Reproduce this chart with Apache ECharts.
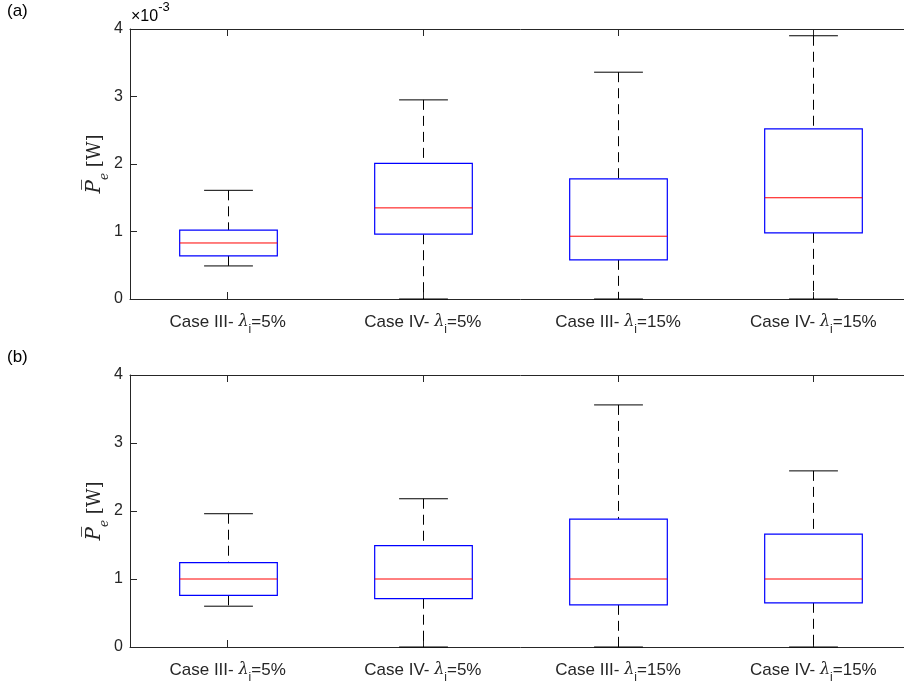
<!DOCTYPE html>
<html>
<head>
<meta charset="utf-8">
<script src="https://cdn.jsdelivr.net/npm/echarts@6/dist/echarts.min.js"></script>
<style>
  html, body { margin: 0; padding: 0; background: #fff; overflow: hidden; }
  #chart { width: 911px; height: 684px; }
</style>
</head>
<body>
<div id="chart"></div>
<script>
(function () {
var myChart = echarts.init(document.getElementById("chart"));

// categories (rich text: {l|λ}{s|i} for lambda with subscript i)
var cases = ["Case III- {l|λ}{s|i}=5%", "Case IV- {l|λ}{s|i}=5%", "Case III- {l|λ}{s|i}=15%", "Case IV- {l|λ}{s|i}=15%"];

// box stats, units of 1e-3 W: [category, lower whisker, Q1, median, Q3, upper whisker]
var boxA = [
    [0, 0.49, 0.64, 0.83, 1.02, 1.61],
    [1, 0.00, 0.96, 1.35, 2.01, 2.95],
    [2, 0.00, 0.58, 0.93, 1.78, 3.36],
    [3, 0.00, 0.98, 1.50, 2.52, 3.90]
];
var boxB = [
    [0, 0.60, 0.76, 1.00, 1.24, 1.96],
    [1, 0.00, 0.71, 1.00, 1.49, 2.18],
    [2, 0.00, 0.62, 1.00, 1.88, 3.56],
    [3, 0.00, 0.65, 1.00, 1.66, 2.59]
];
var yTicks = [0, 1, 2, 3, 4];

var axisColor = "#262626";
var font = "Liberation Sans";

function renderBox(params, api) {
    var x = api.value(0);
    var lo = api.coord([x, api.value(1)]);
    var q1 = api.coord([x, api.value(2)]);
    var md = api.coord([x, api.value(3)]);
    var q3 = api.coord([x, api.value(4)]);
    var hi = api.coord([x, api.value(5)]);
    var band = api.size([1, 0])[0];
    var bw = band * 0.5;
    var cw = band * 0.25;
    var cx = Math.round(lo[0]) + 0.5;
    var dash = { stroke: "#000", lineWidth: 1, lineDash: [10, 6] };
    var solid = { stroke: "#000", lineWidth: 1 };
    return {
        type: "group",
        children: [
            { type: "line", shape: { x1: cx, y1: hi[1], x2: cx, y2: q3[1] }, style: dash },
            { type: "line", shape: { x1: cx, y1: q1[1], x2: cx, y2: lo[1] }, style: dash },
            { type: "line", shape: { x1: cx - cw / 2, y1: hi[1], x2: cx + cw / 2, y2: hi[1] }, style: solid },
            { type: "line", shape: { x1: cx - cw / 2, y1: lo[1], x2: cx + cw / 2, y2: lo[1] }, style: solid },
            { type: "rect", shape: { x: cx - bw / 2, y: q3[1], width: bw, height: q1[1] - q3[1] },
              style: { fill: "#fff", stroke: "#0000ff", lineWidth: 1.2 } },
            { type: "line", shape: { x1: cx - bw / 2, y1: md[1], x2: cx + bw / 2, y2: md[1] },
              style: { stroke: "#ff0000", lineWidth: 1 } }
        ]
    };
}

var labelRich = {
    l: { fontFamily: "DejaVu Serif", fontStyle: "italic", fontSize: 16, color: axisColor },
    s: { fontFamily: font, fontSize: 12, color: axisColor, verticalAlign: "bottom", lineHeight: 28 }
};

function xAxes(grid) {
    var tick = { show: true, interval: 0, inside: true, alignWithLabel: true, length: 7, lineStyle: { color: axisColor } };
    return [{
        type: "category", gridIndex: grid, data: cases, position: "bottom",
        axisLine: { show: true, onZero: false, lineStyle: { color: axisColor } },
        axisTick: tick,
        axisLabel: { interval: 0, fontFamily: font, fontSize: 17, color: axisColor, margin: 9, rich: labelRich },
        splitLine: { show: false }
    }, {
        type: "category", gridIndex: grid, data: cases, position: "top",
        axisLine: { show: true, onZero: false, lineStyle: { color: axisColor } },
        axisTick: tick,
        axisLabel: { show: false },
        splitLine: { show: false }
    }];
}

var nameRich = {
    p: { fontFamily: "DejaVu Serif", fontStyle: "italic", fontSize: 20, color: axisColor },
    e: { fontFamily: "DejaVu Serif", fontStyle: "italic", fontSize: 12, color: axisColor, verticalAlign: "bottom", lineHeight: 32 },
    w: { fontFamily: "DejaVu Serif", fontSize: 18, color: axisColor }
};

function yAxes(grid) {
    var tick = { show: true, inside: true, length: 7, lineStyle: { color: axisColor } };
    return [{
        type: "value", gridIndex: grid, position: "left", min: 0, max: 4, interval: 1,
        name: "{p|P\u0305}{e|e}{w| [W]}", nameLocation: "middle", nameGap: 19, nameRotate: 90,
        nameMoveOverlap: false,
        nameTextStyle: { rich: nameRich },
        axisLine: { show: true, onZero: false, lineStyle: { color: axisColor } },
        axisTick: tick,
        axisLabel: { fontFamily: font, fontSize: 16, color: axisColor, margin: 7,
            formatter: function (v) { return yTicks.indexOf(v) >= 0 ? String(v) : ""; } },
        splitLine: { show: false }
    }, {
        type: "value", gridIndex: grid, position: "right", min: 0, max: 4, interval: 1,
        axisLine: { show: true, onZero: false, lineStyle: { color: axisColor } },
        axisTick: tick,
        axisLabel: { show: false },
        splitLine: { show: false }
    }];
}

var option = {
    backgroundColor: "#fff",
    animation: false,
    grid: [
        { left: 130, top: 29, right: 0, height: 270 },
        { left: 130, top: 375, right: 0, height: 272 }
    ],
    xAxis: xAxes(0).concat(xAxes(1)),
    yAxis: yAxes(0).concat(yAxes(1)),
    graphic: [
        { type: "text", left: 7, top: 3, style: { text: "(a)", font: "17px Liberation Sans", fill: "#000" } },
        { type: "text", left: 7, top: 349, style: { text: "(b)", font: "17px Liberation Sans", fill: "#000" } },
        { type: "text", left: 131, top: 1, style: {
            text: "{a|\u00d710}{b|-3}",
            rich: {
                a: { fontFamily: font, fontSize: 16, color: axisColor, verticalAlign: "bottom", lineHeight: 24 },
                b: { fontFamily: font, fontSize: 13, color: axisColor, verticalAlign: "top", lineHeight: 24 }
            }
        } }
    ],
    series: [{
        type: "custom", xAxisIndex: 0, yAxisIndex: 0,
        renderItem: renderBox, data: boxA,
        encode: { x: 0, y: [1, 2, 3, 4, 5] }
    }, {
        type: "custom", xAxisIndex: 2, yAxisIndex: 2,
        renderItem: renderBox, data: boxB,
        encode: { x: 0, y: [1, 2, 3, 4, 5] }
    }]
};

myChart.setOption(option);
window.addEventListener("resize", function () {
    myChart.resize();
});
})();
</script>
</body>
</html>
